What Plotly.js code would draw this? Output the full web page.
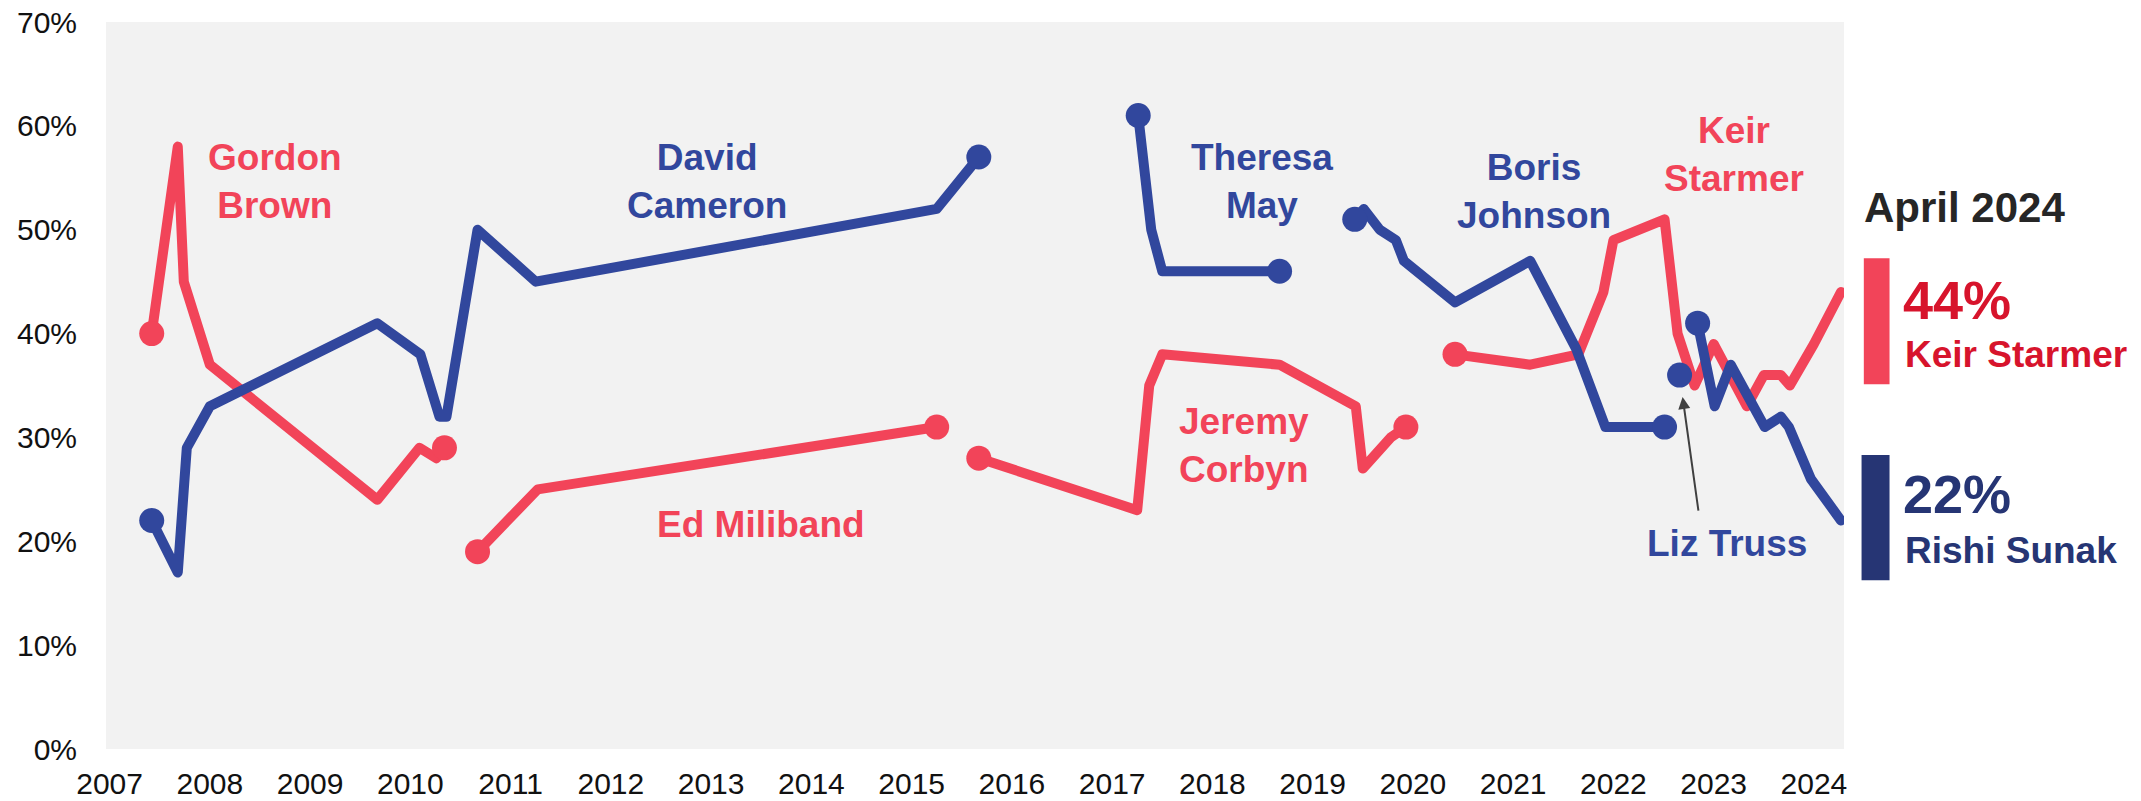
<!DOCTYPE html>
<html>
<head>
<meta charset="utf-8">
<script src="https://cdn.plot.ly/plotly-3.0.1.min.js"></script>
<style>
html,body{margin:0;padding:0;background:#fff;}
#chart{width:2141px;height:801px;}
path.js-line{stroke-linejoin:round !important;stroke-linecap:round !important;}
</style>
</head>
<body>
<div id="chart"></div>
<script>
// ---- Data (decimal years, % net favourability / preferred PM share) ----
const brownX = [2007.42, 2007.68, 2007.74, 2008.0, 2009.67, 2010.09, 2010.26, 2010.34];
const brownY = [40, 58, 45, 37, 24, 29, 28, 29];

const cameronX = [2007.42, 2007.68, 2007.77, 2008.0, 2009.67, 2010.10, 2010.29, 2010.36, 2010.67, 2011.25, 2015.25, 2015.67];
const cameronY = [22, 17, 29, 33, 41, 38, 32, 32, 50, 45, 52, 57];

const milibandX = [2010.67, 2011.27, 2015.25];
const milibandY = [19, 25, 31];

const corbynX = [2015.67, 2017.25, 2017.37, 2017.50, 2018.67, 2019.43, 2019.50, 2019.67, 2019.78, 2019.93];
const corbynY = [28, 23, 35, 38, 37, 33, 27, 29, 30, 31];

const mayX = [2017.26, 2017.39, 2017.50, 2018.67];
const mayY = [61, 50, 46, 46];

const johnsonX = [2019.42, 2019.51, 2019.67, 2019.83, 2019.91, 2020.42, 2021.17, 2021.63, 2021.92, 2022.51];
const johnsonY = [51, 52, 50, 49, 47, 43, 47, 38.5, 31, 31];

const starmerX = [2020.42, 2021.17, 2021.65, 2021.90, 2022.0, 2022.51, 2022.64, 2022.81, 2023.0, 2023.33, 2023.50, 2023.67, 2023.76, 2024.0, 2024.27];
const starmerY = [38, 37, 38, 44, 49, 51, 40, 35, 39, 33, 36, 36, 35, 39, 44];

const trussX = [2022.66];
const trussY = [36];

const sunakX = [2022.84, 2023.01, 2023.17, 2023.51, 2023.67, 2023.75, 2023.97, 2024.27];
const sunakY = [41, 33, 37, 31, 32, 31, 26, 22];

const yearTicks = [2007,2008,2009,2010,2011,2012,2013,2014,2015,2016,2017,2018,2019,2020,2021,2022,2023,2024];
const pctTicks = [0,10,20,30,40,50,60,70];

const latestLabel = 'April 2024';
const latestLab = 44, latestCon = 22;

// ---- Styles ----
const RED = '#F24459';
const BLUE = '#31479D';
const NAVY = '#263574';
const DARKRED = '#D7142C';
const FONT = 'Liberation Sans, Arial, sans-serif';

function sizes(n, startDot, endDot) {
  const s = new Array(n).fill(0);
  if (startDot) s[0] = 25;
  if (endDot) s[n-1] = 25;
  return s;
}
function tr(x, y, color, startDot, endDot) {
  return {
    x: x, y: y, type: 'scatter', mode: 'lines+markers',
    line: {color: color, width: 10},
    marker: {color: color, opacity: 1, size: sizes(x.length, startDot, endDot), line: {width: 0}},
    hoverinfo: 'skip', showlegend: false, cliponaxis: false
  };
}

const data = [
  tr(brownX, brownY, RED, true, true),
  tr(milibandX, milibandY, RED, true, true),
  tr(corbynX, corbynY, RED, true, true),
  tr(starmerX, starmerY, RED, true, false),
  tr(cameronX, cameronY, BLUE, true, true),
  tr(mayX, mayY, BLUE, true, true),
  tr(johnsonX, johnsonY, BLUE, true, true),
  tr(trussX, trussY, BLUE, true, false),
  tr(sunakX, sunakY, BLUE, true, false)
];

function lab(text, x, y, color) {
  return {text: text, x: x, y: y, xref: 'x', yref: 'y', showarrow: false,
    xanchor: 'center', yanchor: 'middle', align: 'center',
    font: {family: FONT, size: 37, color: color, weight: 700}};
}
function side(text, px, py, size, color) {
  return {text: text, x: px, y: py, xref: 'paper', yref: 'paper', showarrow: false,
    xanchor: 'left', yanchor: 'middle', align: 'left',
    font: {family: FONT, size: size, color: color, weight: 700}};
}

const annotations = [
  lab('<b>Gordon</b><br><b>Brown</b>', 2008.65, 54.6, RED),
  lab('<b>David</b><br><b>Cameron</b>', 2012.96, 54.6, BLUE),
  lab('<b>Theresa</b><br><b>May</b>', 2018.49, 54.6, BLUE),
  lab('<b>Ed Miliband</b>', 2013.50, 21.66, RED),
  lab('<b>Jeremy</b><br><b>Corbyn</b>', 2018.32, 29.2, RED),
  lab('<b>Boris</b><br><b>Johnson</b>', 2021.21, 53.7, BLUE),
  lab('<b>Keir</b><br><b>Starmer</b>', 2023.20, 57.25, RED),
  lab('<b>Liz Truss</b>', 2023.13, 19.8, BLUE),
  {text: '', x: 2022.69, y: 33.9, ax: 2022.85, ay: 22.8, xref: 'x', yref: 'y', axref: 'x', ayref: 'y',
   showarrow: true, arrowhead: 2, arrowsize: 1.2, arrowwidth: 2, arrowcolor: '#404040', standoff: 0},
  side('<b>' + latestLabel + '</b>', 1.0105, 0.7454, 42, '#262626'),
  side('<b>' + latestLab + '%</b>', 1.033, 0.6178, 54, DARKRED),
  side('<b>Keir Starmer</b>', 1.034, 0.5431, 37, DARKRED),
  side('<b>' + latestCon + '%</b>', 1.033, 0.3504, 54, NAVY),
  side('<b>Rishi Sunak</b>', 1.034, 0.2729, 37, NAVY)
];

const shapes = [
  {type: 'rect', xref: 'paper', yref: 'paper', x0: 1.0114, x1: 1.0262, y0: 0.5018, y1: 0.6752,
   fillcolor: RED, line: {width: 0}},
  {type: 'rect', xref: 'paper', yref: 'paper', x0: 1.0101, x1: 1.0262, y0: 0.232, y1: 0.4043,
   fillcolor: NAVY, line: {width: 0}}
];

const layout = {
  width: 2141, height: 801,
  margin: {l: 106, r: 296.5, t: 22, b: 52.4},
  paper_bgcolor: '#ffffff',
  plot_bgcolor: '#f2f2f2',
  font: {family: FONT, size: 30, color: '#111111'},
  xaxis: {
    range: [2006.964, 2024.30], tickvals: yearTicks, ticktext: yearTicks.map(String),
    showgrid: false, zeroline: false, showline: false, ticks: '',
    ticklabelstandoff: 14, tickfont: {family: FONT, size: 30, color: '#111111'}, fixedrange: true
  },
  yaxis: {
    range: [0, 70], tickvals: pctTicks, ticktext: pctTicks.map(v => v + '%'),
    showgrid: false, zeroline: false, showline: false, ticks: '',
    ticklabelstandoff: 28, tickfont: {family: FONT, size: 30, color: '#111111'}, fixedrange: true
  },
  annotations: annotations,
  shapes: shapes,
  showlegend: false
};

Plotly.newPlot('chart', data, layout, {displayModeBar: false, staticPlot: true});
</script>
</body>
</html>
